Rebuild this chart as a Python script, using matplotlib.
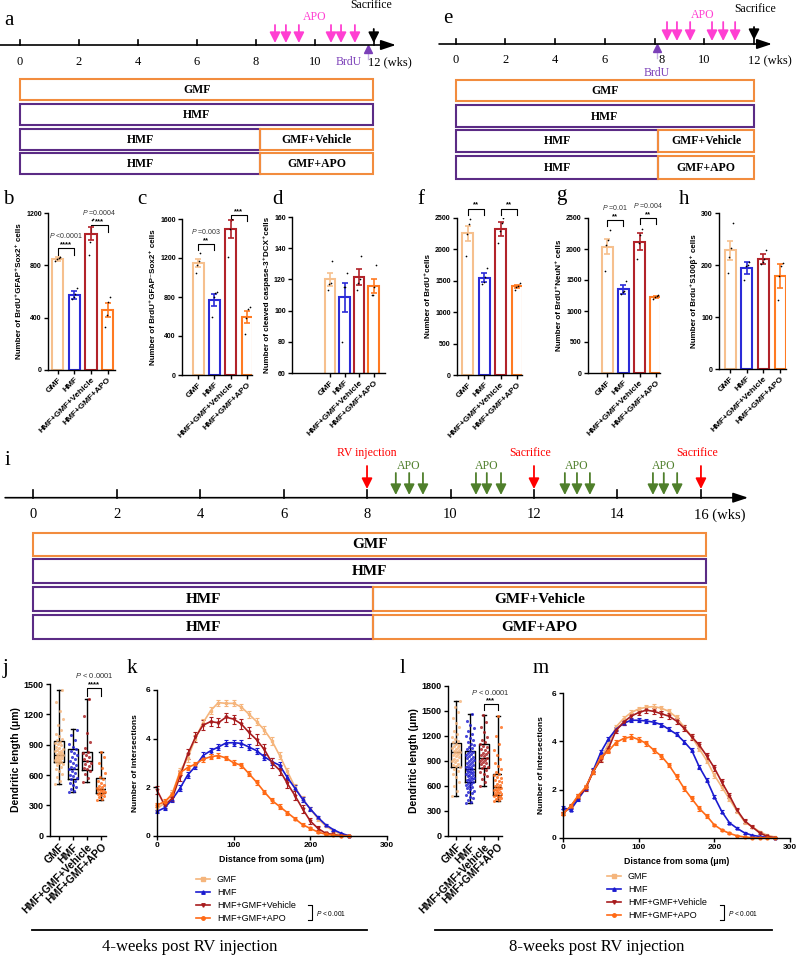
import numpy as np
import matplotlib
matplotlib.use('Agg')
import matplotlib.pyplot as plt
from matplotlib.patches import Rectangle
from matplotlib.lines import Line2D

plt.rcParams['font.family'] = ['Liberation Sans', 'DejaVu Sans']
plt.rcParams['mathtext.fontset'] = 'custom'
plt.rcParams['mathtext.rm'] = 'Liberation Sans'
plt.rcParams['mathtext.it'] = 'Liberation Sans:italic'
plt.rcParams['mathtext.bf'] = 'Liberation Sans:bold'
plt.rcParams['axes.linewidth'] = 1.0

W, H = 799, 958
SERIF = ['Liberation Serif', 'DejaVu Serif']

# ---------------- data ----------------
groups = ['GMF', 'HMF', 'HMF+GMF+Vehicle', 'HMF+GMF+APO']
bar_colors = ['#F6C08E', '#2B2BD8', '#B2232A', '#FF7A22']
line_colors = ['#F5B57C', '#1B1BCF', '#A81C1E', '#FF6A16']
line_markers = ['s', '^', 'v', 'o']

regimens = [['GMF'], ['HMF'], ['HMF', 'GMF+Vehicle'], ['HMF', 'GMF+APO']]
switch_week = 8.15
REG_ORANGE = '#F28C3E'
REG_PURPLE = '#5B2B85'
PINK = '#FF3FD2'
GREEN = '#4F7F2B'
BRDU = '#7B3FB8'

a_ticks = [0, 2, 4, 6, 8, 10, 12]
a_apo = [8.65, 9.02, 9.46, 10.55, 10.89, 11.36]
a_brdu = 11.8
a_sacrifice = 12

e_ticks = [0, 2, 4, 6, 8, 10, 12]
e_apo = [8.5, 8.9, 9.43, 10.31, 10.76, 11.24]
e_brdu = 8.08
e_sacrifice = 12

i_ticks = [0, 2, 4, 6, 8, 10, 12, 14, 16]
i_rv = 8
i_sacrifice = [12, 16]
i_apo = [[8.69, 9.01, 9.34], [10.61, 10.87, 11.21], [12.74, 13.03, 13.34], [14.85, 15.11, 15.43]]

# bar panels: means, sem, individual animals
b_mean = [850, 575, 1040, 460]
b_sem = [15, 30, 50, 55]
b_pts = [[835, 850, 855, 860], [540, 560, 580, 630], [880, 975, 1150, 1155], [330, 420, 520, 560]]

c_mean = [1150, 770, 1500, 595]
c_sem = [40, 60, 90, 60]
c_pts = [[1050, 1130, 1170, 1250], [590, 800, 840, 850], [1210, 1500, 1600, 1690], [420, 580, 680, 700]]

d_mean = [120, 108.5, 121.5, 116]
d_sem = [4, 9.5, 5, 4.5]
d_pts = [[113, 117, 118, 132], [80, 115, 115, 124], [113, 118, 120, 135], [110, 110, 115, 129]]

f_mean = [2260, 1550, 2330, 1410]
f_sem = [120, 70, 110, 30]
f_pts = [[1900, 2250, 2400, 2490], [1450, 1480, 1560, 1710], [2100, 2300, 2420, 2500], [1360, 1400, 1420, 1460]]

g_mean = [2040, 1350, 2120, 1230]
g_sem = [120, 70, 140, 20]
g_pts = [[1650, 2060, 2150, 2300], [1280, 1300, 1330, 1490], [1840, 2100, 2220, 2320], [1200, 1220, 1240, 1260]]

h_mean = [228, 194, 212, 178]
h_sem = [18, 12, 10, 23]
h_pts = [[185, 215, 232, 280], [172, 198, 200, 206], [202, 206, 212, 228], [132, 178, 198, 204]]

# dendritic length box plots: (whisker low, q1, median, q3, whisker high)
j_stats = [(508, 732, 798, 936, 1440), (429, 557, 660, 854, 1052), (534, 649, 742, 831, 1348), (353, 419, 458, 567, 831)]
j_gmf = [510, 540, 580, 610, 640, 660, 680, 695, 705, 715, 725, 730, 738, 745, 752, 760, 766, 772, 780, 786,
         792, 798, 804, 810, 818, 826, 834, 842, 850, 860, 870, 880, 892, 905, 918, 930, 945, 960, 985, 1010,
         1045, 1090, 1150, 1230, 1320, 1440]
j_hmf = [430, 445, 462, 480, 500, 520, 540, 556, 570, 588, 605, 622, 640, 655, 668, 682, 698, 715, 735, 756,
         778, 800, 822, 840, 855, 875, 905, 950, 1000, 1050]
j_veh = [534, 575, 610, 640, 655, 670, 688, 705, 720, 742, 760, 778, 795, 815, 830, 870, 930, 1020, 1180, 1348]
j_apo = [353, 365, 378, 390, 400, 410, 418, 425, 432, 440, 447, 454, 460, 468, 478, 490, 505, 522, 540, 560,
         585, 620, 665, 720, 780, 831]

l_stats = [(476, 828, 1000, 1108, 1620), (388, 648, 800, 1016, 1460), (596, 808, 928, 1096, 1448), (416, 488, 588, 740, 1436)]
l_gmf = [476, 540, 600, 650, 700, 740, 775, 800, 820, 835, 850, 865, 880, 895, 910, 925, 940, 952, 965, 978,
         990, 1000, 1008, 1018, 1030, 1042, 1055, 1068, 1080, 1092, 1105, 1120, 1140, 1165, 1190, 1220, 1260,
         1300, 1350, 1410, 1480, 1550, 1620]
l_hmf = [388, 410, 430, 452, 470, 490, 508, 525, 540, 556, 570, 585, 598, 610, 622, 634, 645, 655, 665, 675,
         685, 695, 705, 715, 724, 733, 742, 751, 760, 770, 780, 790, 800, 810, 820, 830, 840, 850, 862, 874,
         886, 898, 910, 922, 934, 946, 958, 970, 982, 995, 1008, 1020, 1035, 1050, 1068, 1086, 1105, 1125,
         1148, 1172, 1198, 1225, 1255, 1290, 1330, 1380, 1460]
l_veh = [596, 640, 680, 715, 745, 770, 790, 808, 825, 840, 855, 870, 885, 900, 912, 925, 938, 952, 966, 980,
         995, 1010, 1025, 1042, 1060, 1078, 1096, 1120, 1150, 1190, 1240, 1300, 1370, 1448]
l_apo = [416, 428, 440, 452, 462, 472, 482, 490, 498, 507, 516, 525, 535, 545, 555, 566, 576, 588, 600, 612,
         625, 640, 655, 670, 688, 706, 725, 745, 770, 800, 835, 875, 920, 970, 1030, 1100, 1200, 1300, 1436]

# Sholl analysis
k_dist = list(range(0, 260, 10))
k_gmf = [1.1, 1.35, 1.75, 2.65, 3.2, 4.0, 4.65, 5.15, 5.48, 5.45, 5.45, 5.3, 5.0, 4.7, 4.35, 3.9, 3.3, 2.65,
         2.0, 1.5, 1.1, 0.7, 0.4, 0.2, 0.05, 0.0]
k_hmf = [1.0, 1.15, 1.5, 1.95, 2.5, 2.85, 3.3, 3.5, 3.65, 3.82, 3.83, 3.8, 3.65, 3.5, 3.25, 3.05, 2.9, 2.4,
         1.95, 1.5, 1.1, 0.75, 0.45, 0.25, 0.1, 0.0]
k_veh = [1.88, 1.25, 1.55, 2.45, 3.35, 4.05, 4.55, 4.7, 4.65, 4.88, 4.8, 4.6, 4.25, 3.95, 3.55, 3.0, 2.7, 2.15,
         1.65, 1.1, 0.6, 0.3, 0.1, 0.05, 0.0, 0.0]
k_apo = [1.26, 1.4, 1.7, 2.6, 2.8, 2.95, 3.15, 3.25, 3.3, 3.2, 3.0, 2.9, 2.55, 2.2, 1.8, 1.45, 1.2, 0.95,
         0.7, 0.45, 0.3, 0.15, 0.06, 0.02, 0.0, 0.0]
k_gmf_sem = [0.1, 0.1, 0.12, 0.15, 0.15, 0.15, 0.15, 0.13, 0.12, 0.12, 0.12, 0.13, 0.14, 0.15, 0.15, 0.15,
             0.15, 0.15, 0.13, 0.12, 0.1, 0.08, 0.06, 0.04, 0.02, 0.0]
k_hmf_sem = [0.05, 0.08, 0.1, 0.12, 0.12, 0.12, 0.13, 0.13, 0.13, 0.13, 0.13, 0.13, 0.13, 0.13, 0.13, 0.13,
             0.13, 0.12, 0.12, 0.1, 0.09, 0.07, 0.05, 0.04, 0.02, 0.0]
k_veh_sem = [0.15, 0.12, 0.14, 0.2, 0.2, 0.2, 0.2, 0.18, 0.18, 0.18, 0.18, 0.2, 0.22, 0.22, 0.22, 0.22, 0.22,
             0.2, 0.18, 0.15, 0.12, 0.08, 0.05, 0.03, 0.0, 0.0]
k_apo_sem = [0.08, 0.1, 0.1, 0.1, 0.1, 0.1, 0.1, 0.1, 0.1, 0.1, 0.1, 0.1, 0.1, 0.1, 0.1, 0.1, 0.09, 0.08,
             0.07, 0.06, 0.05, 0.04, 0.02, 0.01, 0.0, 0.0]

m_dist = list(range(0, 290, 10))
m_gmf = [1.0, 1.3, 1.7, 2.1, 2.75, 3.3, 3.9, 4.6, 4.95, 5.2, 5.35, 5.42, 5.45, 5.38, 5.25, 5.0, 4.6, 4.2,
         3.7, 3.2, 2.6, 2.1, 1.6, 1.1, 0.66, 0.45, 0.25, 0.1, 0.03]
m_hmf = [1.25, 1.15, 1.6, 2.05, 2.8, 3.55, 4.1, 4.5, 4.75, 4.88, 4.88, 4.85, 4.8, 4.7, 4.5, 4.3, 3.99, 3.64,
         2.95, 2.4, 1.7, 1.08, 0.62, 0.39, 0.2, 0.1, 0.05, 0.02, 0.0]
m_veh = [1.0, 1.3, 1.7, 2.05, 2.75, 3.25, 3.7, 4.45, 4.8, 5.05, 5.2, 5.3, 5.25, 5.15, 5.05, 4.85, 4.55, 4.2,
         3.85, 3.4, 2.9, 2.3, 1.75, 1.15, 0.7, 0.45, 0.2, 0.05, 0.0]
m_apo = [1.0, 1.3, 1.75, 2.1, 2.75, 3.35, 3.6, 3.95, 4.12, 4.19, 4.08, 3.92, 3.64, 3.39, 3.02, 2.55, 2.05,
         1.63, 1.22, 0.9, 0.53, 0.32, 0.18, 0.08, 0.03, 0.0, 0.0, 0.0, 0.0]
m_gmf_sem = [0.05, 0.06, 0.08, 0.08, 0.1, 0.1, 0.1, 0.1, 0.1, 0.1, 0.1, 0.1, 0.1, 0.1, 0.1, 0.1, 0.1, 0.1,
             0.1, 0.1, 0.1, 0.1, 0.09, 0.08, 0.07, 0.05, 0.04, 0.02, 0.01]
m_hmf_sem = [0.06, 0.06, 0.07, 0.07, 0.08, 0.08, 0.08, 0.08, 0.08, 0.08, 0.08, 0.08, 0.08, 0.08, 0.08, 0.08,
             0.08, 0.08, 0.08, 0.08, 0.07, 0.06, 0.05, 0.04, 0.03, 0.02, 0.01, 0.01, 0.0]
m_veh_sem = [0.06, 0.08, 0.1, 0.1, 0.12, 0.12, 0.12, 0.12, 0.12, 0.12, 0.12, 0.12, 0.12, 0.12, 0.12, 0.12,
             0.12, 0.12, 0.12, 0.12, 0.12, 0.12, 0.11, 0.1, 0.08, 0.06, 0.04, 0.02, 0.0]
m_apo_sem = [0.06, 0.07, 0.08, 0.08, 0.1, 0.1, 0.1, 0.1, 0.1, 0.1, 0.1, 0.1, 0.1, 0.1, 0.1, 0.1, 0.1, 0.1,
             0.09, 0.08, 0.06, 0.05, 0.04, 0.03, 0.01, 0.0, 0.0, 0.0, 0.0]

# ---------------- figure ----------------
fig = plt.figure(figsize=(W / 100, H / 100), dpi=100)


def px_axes(x0, y0, x1, y1):
    return fig.add_axes([x0 / W, 1 - y1 / H, (x1 - x0) / W, (y1 - y0) / H])


ov = px_axes(0, 0, W, H)
ov.set_xlim(0, W)
ov.set_ylim(H, 0)
ov.axis('off')


def timeline_axes(x0, y0, x1, y1, origin, scale):
    ax = px_axes(x0, y0, x1, y1)
    ax.set_xlim((x0 - origin) / scale, (x1 - origin) / scale)
    ax.set_ylim(y1, y0)
    ax.axis('off')
    return ax


def arrow(ax, x, y_from, y_to, color, lw=1.3, ms=9):
    ax.annotate('', xy=(x, y_to), xytext=(x, y_from),
                arrowprops=dict(arrowstyle='-|>,head_width=0.35,head_length=0.7', color=color,
                                lw=lw, mutation_scale=ms, shrinkA=0, shrinkB=0))


def time_axis(ax, y, w0, w1, ticks, tick_len, lab_y, fs, nudge=None):
    nudge = nudge or {}
    ax.annotate('', xy=(w1, y), xytext=(w0, y),
                arrowprops=dict(arrowstyle='-|>,head_width=0.3,head_length=0.9', color='k', lw=1.2,
                                mutation_scale=10, shrinkA=0, shrinkB=0))
    for t in ticks:
        ax.plot([t, t], [y, y - tick_len], color='k', lw=1.2)
    for t in ticks[:-1]:
        ax.annotate(str(t), xy=(t, lab_y), xytext=(nudge.get(t, 0), 0), textcoords='offset points',
                    ha='center', va='center', family=SERIF, fontsize=fs)
    ax.annotate(f'{ticks[-1]} (wks)', xy=(ticks[-1], lab_y), xytext=(-fs * 0.5, 0),
                textcoords='offset points', ha='left', va='center', family=SERIF, fontsize=fs)


def regimen_boxes(ax, rows_y, w_end, fs):
    for labels, (ya, yb) in zip(regimens, rows_y):
        spans = [(0, w_end)] if len(labels) == 1 else [(0, switch_week), (switch_week, w_end)]
        for lab, (s, e) in zip(labels, spans):
            col = REG_ORANGE if lab.startswith('GMF') else REG_PURPLE
            ax.add_patch(Rectangle((s, ya), e - s, yb - ya, fill=False, edgecolor=col, lw=1.5))
            ax.text((s + e) / 2, (ya + yb) / 2 + 0.5, lab, ha='center', va='center', family=SERIF,
                    fontweight='bold', fontsize=fs)


def brdu_mark(ax, w, y_tip):
    ax.plot([w, w], [y_tip + 7, y_tip + 14], color='#C9B3E6', lw=1)
    ax.plot([w], [y_tip + 4], marker='^', ms=6, color=BRDU, mec=BRDU)


# panel a timeline
ta = timeline_axes(0, 0, 400, 180, 20, 29.48)
time_axis(ta, 45, -0.68, 12.75, a_ticks, 5, 62, 9)
for w in a_apo:
    arrow(ta, w, 25, 43, PINK)
ta.text(10.0, 17, 'APO', color=PINK, family=SERIF, fontsize=8.5, ha='center', va='center')
arrow(ta, a_sacrifice, 29, 43, 'k')
ta.text(11.9, 5, 'Sacrifice', family=SERIF, fontsize=8.5, ha='center', va='center')
brdu_mark(ta, a_brdu, 45)
ta.text(11.16, 62, 'BrdU', color=BRDU, family=SERIF, fontsize=8.5, ha='center', va='center')
regimen_boxes(ta, [(79, 100), (104, 125), (129, 150), (153, 174)], 11.98, 8.5)

# panel e timeline
te = timeline_axes(400, 0, 799, 185, 455.7, 24.86)
time_axis(te, 44, -0.67, 12.72, e_ticks, 5, 60, 9, nudge={8: 5})
for w in e_apo:
    arrow(te, w, 22, 41, PINK)
te.text(9.95, 15, 'APO', color=PINK, family=SERIF, fontsize=8.5, ha='center', va='center')
arrow(te, e_sacrifice, 27, 40, 'k')
te.text(12.05, 9, 'Sacrifice', family=SERIF, fontsize=8.5, ha='center', va='center')
brdu_mark(te, e_brdu, 44)
te.text(e_brdu, 72.5, 'BrdU', color=BRDU, family=SERIF, fontsize=8.5, ha='center', va='center')
regimen_boxes(te, [(80, 101), (105, 127), (130, 152), (156, 179)], 12.0, 8.5)

# panel i timeline
ti = timeline_axes(0, 445, 799, 645, 33.1, 41.74)
time_axis(ti, 497.7, -0.67, 17.13, i_ticks, 8, 515, 10.5)
arrow(ti, i_rv, 466, 489, 'red')
ti.text(i_rv, 453, 'RV injection', color='red', family=SERIF, fontsize=8.5, ha='center', va='center')
for w in i_sacrifice:
    arrow(ti, w, 466, 489, 'red')
    ti.text(w - 0.1, 453, 'Sacrifice', color='red', family=SERIF, fontsize=8.5, ha='center', va='center')
for grp in i_apo:
    for w in grp:
        arrow(ti, w, 473, 495, GREEN)
    ti.text(grp[1], 466, 'APO', color=GREEN, family=SERIF, fontsize=8.5, ha='center', va='center')
regimen_boxes(ti, [(532.7, 556), (559, 582.7), (586.7, 610.7), (615, 639)], 16.12, 11)


def style(ax, fs):
    ax.spines['top'].set_visible(False)
    ax.spines['right'].set_visible(False)
    ax.tick_params(width=1, length=3, labelsize=fs, pad=1.5)
    for lab in ax.get_xticklabels() + ax.get_yticklabels():
        lab.set_fontweight('bold')


def bracket(ax, x1, x2, y, leg, stars, ptxt, fs_p=5):
    ax.plot([x1, x1, x2, x2], [y - leg, y, y, y - leg], color='k', lw=0.8, clip_on=False)
    ax.text((x1 + x2) / 2, y, stars, ha='center', va='bottom', fontsize=5.5, fontweight='bold', clip_on=False)
    ax.annotate(ptxt, xy=((x1 + x2) / 2, y), xytext=(0, 5.5), textcoords='offset points',
                ha='center', va='bottom', fontsize=fs_p, color='#333333')


def bar_panel(rect, xlim, width, means, sems, pts, ylim, yticks, ylabel):
    ax = px_axes(*rect)
    x = np.arange(len(groups))
    ax.bar(x, means, width=width, color='none', edgecolor=bar_colors, linewidth=1.5, zorder=2)
    offs = np.array([-0.15, -0.05, 0.05, 0.15])
    for i in range(len(groups)):
        ax.errorbar(x[i], means[i], yerr=sems[i], color=bar_colors[i], capsize=2.5, elinewidth=1.2,
                    capthick=1.2, zorder=3)
        ax.scatter(x[i] + offs, pts[i], s=1.5, color='k', zorder=4, linewidths=0)
    ax.set_xlim(*xlim)
    ax.set_ylim(*ylim)
    ax.set_yticks(yticks)
    ax.set_xticks(x)
    ax.set_xticklabels(groups, rotation=45, ha='right', rotation_mode='anchor')
    ax.set_ylabel(ylabel, fontsize=5.8, fontweight='bold', labelpad=2)
    style(ax, 5)
    for lab in ax.get_xticklabels():
        lab.set_fontsize(6)
    return ax


ab = bar_panel((48, 213, 115, 370), (-0.6, 3.45), 0.67, b_mean, b_sem, b_pts, (0, 1200),
               [0, 400, 800, 1200], 'Number of BrdU⁺GFAP⁺Sox2⁺ cells')
bracket(ab, 0, 1, 932, 50, '****', r'$\it{P}$ <0.0001')
bracket(ab, 2, 3, 1108, 50, '***', r'$\it{P}$ =0.0004')

ac = bar_panel((182, 219, 252, 375), (-0.98, 3.3), 0.67, c_mean, c_sem, c_pts, (0, 1600),
               [0, 400, 800, 1200, 1600], 'Number of BrdU⁺GFAP⁻Sox2⁺ cells')
bracket(ac, 0, 1, 1344, 60, '**', r'$\it{P}$ =0.003')
bracket(ac, 2, 3, 1641, 60, '***', r'$\it{P}$ =0.0003')

ad = bar_panel((292, 217, 385, 373), (-2.6, 3.77), 0.73, d_mean, d_sem, d_pts, (60, 160),
               [60, 80, 100, 120, 140, 160], 'Number of cleaved caspase-3⁺DCX⁺cells')

af = bar_panel((457, 218, 522, 375), (-0.67, 3.3), 0.67, f_mean, f_sem, f_pts, (0, 2500),
               [0, 500, 1000, 1500, 2000, 2500], 'Number of BrdU⁺cells')
bracket(af, 0, 1, 2650, 100, '**', r'$\it{P}$ =0.008')
bracket(af, 2, 3, 2650, 100, '**', r'$\it{P}$ =0.003')

ag = bar_panel((588, 218, 660, 373), (-1.17, 3.25), 0.67, g_mean, g_sem, g_pts, (0, 2500),
               [0, 500, 1000, 1500, 2000, 2500], 'Number of BrdU⁺NeuN⁺ cells')
bracket(ag, 0, 1, 2468, 100, '**', r'$\it{P}$ =0.01')
bracket(ag, 2, 3, 2500, 100, '**', r'$\it{P}$ =0.004')

ah = bar_panel((719, 213, 786, 369), (-0.66, 3.35), 0.66, h_mean, h_sem, h_pts, (0, 300),
               [0, 100, 200, 300], 'Number of Brdu⁺S100β⁺ cells')


def box_panel(rect, xlim, stats, dots, ylim, yticks):
    ax = px_axes(*rect)
    x = np.arange(len(groups))
    bstats = [dict(whislo=s[0], q1=s[1], med=s[2], q3=s[3], whishi=s[4], fliers=[]) for s in stats]
    ax.bxp(bstats, positions=x, widths=0.75, showfliers=False, capwidths=0.3,
           boxprops=dict(color='k', lw=1), whiskerprops=dict(color='k', lw=1),
           capprops=dict(color='k', lw=1), medianprops=dict(color='k', lw=1))
    for i, vals in enumerate(dots):
        n = len(vals)
        jit = ((np.arange(n) * 0.618) % 1 - 0.5) * 0.6
        ax.scatter(x[i] + jit, vals, s=5, color=line_colors[i], alpha=0.8, linewidths=0, zorder=3)
    ax.set_xlim(*xlim)
    ax.set_ylim(*ylim)
    ax.set_yticks(yticks)
    ax.set_xticks(x)
    ax.set_xticklabels(groups, rotation=45, ha='right', rotation_mode='anchor')
    ax.set_ylabel('Dendritic length (μm)', fontsize=7.5, fontweight='bold', labelpad=2)
    style(ax, 6.5)
    for lab in ax.get_xticklabels():
        lab.set_fontsize(7.5)
    return ax


aj = box_panel((50, 684, 106, 835.7), (-0.64, 3.36), j_stats, [j_gmf, j_hmf, j_veh, j_apo], (0, 1500),
               [0, 300, 600, 900, 1200, 1500])
bracket(aj, 2, 3, 1463, 80, '****', r'$\it{P}$ < 0.0001', fs_p=5.5)
al = box_panel((448, 685.7, 502, 835.7), (-0.57, 3.3), l_stats, [l_gmf, l_hmf, l_veh, l_apo], (0, 1800),
               [0, 300, 600, 900, 1200, 1500, 1800])
bracket(al, 2, 3, 1577, 70, '***', r'$\it{P}$ < 0.0001', fs_p=5.5)


def sholl_panel(rect, dist, series, sems, leg_xy, pbr_x):
    ax = px_axes(*rect)
    handles = []
    for vals, err, c, mk in zip(series, sems, line_colors, line_markers):
        ax.errorbar(dist, vals, yerr=err, color=c, marker=mk, ms=2, lw=1.2, elinewidth=0.8,
                    capsize=1.5, capthick=0.8, clip_on=False)
        handles.append(Line2D([], [], color=c, marker=mk, ms=2.5, lw=1.2))
    ax.set_xlim(0, 300)
    ax.set_ylim(0, 6)
    ax.set_xticks([0, 100, 200, 300])
    ax.set_yticks([0, 2, 4, 6])
    ax.set_xlabel('Distance from soma (μm)', fontsize=6.3, fontweight='bold', labelpad=4)
    ax.set_ylabel('Number of intersections', fontsize=6, fontweight='bold', labelpad=5)
    style(ax, 6)
    ax.legend(handles, groups, loc='upper left', bbox_to_anchor=(leg_xy[0] / W, 1 - leg_xy[1] / H),
              bbox_transform=fig.transFigure, frameon=False, fontsize=6.5, handlelength=1.6,
              handletextpad=0.7, labelspacing=0.45, borderpad=0, borderaxespad=0)
    ov.plot([pbr_x - 4, pbr_x, pbr_x, pbr_x - 4], [905, 905, 920, 920], color='k', lw=0.8)
    ov.text(pbr_x + 4, 913, r'$\it{P}$ < 0.001', fontsize=4.8, ha='left', va='center')
    return ax


ak = sholl_panel((157, 690, 387, 835.7), k_dist, [k_gmf, k_hmf, k_veh, k_apo],
                 [k_gmf_sem, k_hmf_sem, k_veh_sem, k_apo_sem], (196, 875), 312)
am = sholl_panel((563, 693.3, 790, 837.7), m_dist, [m_gmf, m_hmf, m_veh, m_apo],
                 [m_gmf_sem, m_hmf_sem, m_veh_sem, m_apo_sem], (607, 872), 724)

# section rules and captions
ov.plot([32, 367], [930, 930], color='k', lw=1.3)
ov.text(190, 947, '4-weeks post RV injection', family=SERIF, fontsize=12, ha='center', va='center')
ov.plot([435, 772], [930, 930], color='k', lw=1.3)
ov.text(597, 947, '8-weeks post RV injection', family=SERIF, fontsize=12, ha='center', va='center')

# panel letters
for letter, lx, ly in [('a', 4, 25), ('b', 3, 204), ('c', 137, 204), ('d', 272, 204), ('e', 443, 23),
                       ('f', 417, 204), ('g', 556, 200), ('h', 679, 204), ('i', 5, 465), ('j', 3, 673),
                       ('k', 127, 673), ('l', 400, 673), ('m', 533, 673)]:
    ov.text(lx, ly, letter, family=SERIF, fontsize=15, ha='left', va='baseline')

fig.savefig('out.png', dpi=100)
